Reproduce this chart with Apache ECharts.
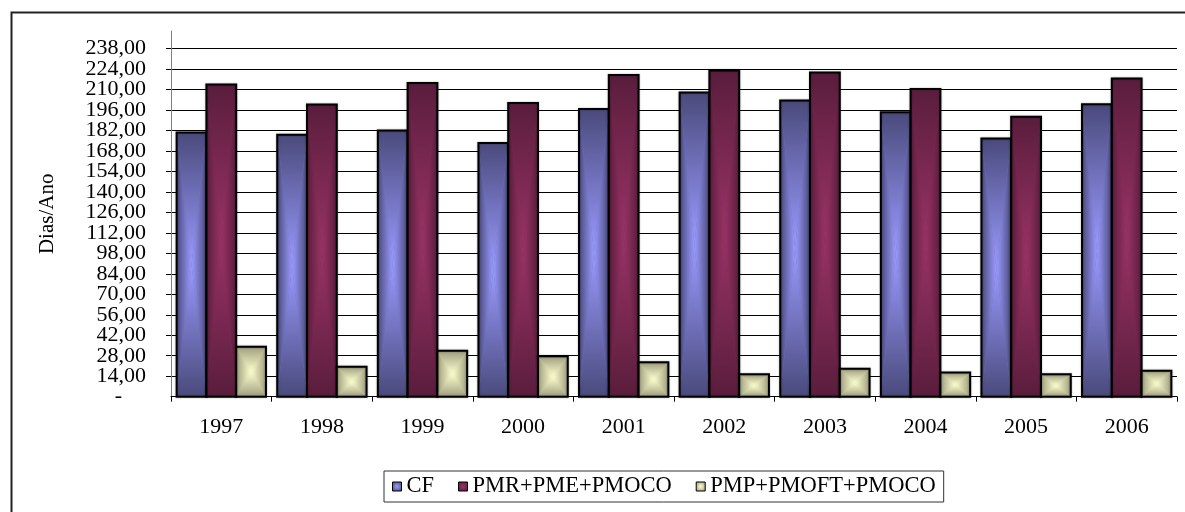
<!DOCTYPE html>
<html>
<head>
<meta charset="utf-8">
<script src="https://cdn.jsdelivr.net/npm/echarts@6/dist/echarts.min.js"></script>
<style>
  html, body { margin: 0; padding: 0; background: #fff; }
  #chart { width: 1185px; height: 512px; }
</style>
</head>
<body>
<div id="chart"></div>
<script>
// Days per year, 1997-2006
const years = ['1997', '1998', '1999', '2000', '2001', '2002', '2003', '2004', '2005', '2006'];
const cf = [180.6, 179.0, 182.0, 173.5, 196.7, 207.9, 202.5, 194.5, 176.5, 199.9];
const pmr = [213.4, 199.7, 214.5, 200.8, 220.0, 223.0, 221.6, 210.4, 191.3, 217.5];
const pmp = [34.2, 20.5, 31.4, 27.6, 23.5, 15.3, 19.1, 16.6, 15.3, 17.8];
const seriesNames = ['CF', 'PMR+PME+PMOCO', 'PMP+PMOFT+PMOCO'];
const yStep = 14;
const yMax = 250;
const zeroLabel = '-';

const FONT = '"Liberation Serif", "Times New Roman", serif';
const GROUP_FRAC = 0.888;
const GRID_LEFT = 171;
const LABEL_MARGIN = 25;

// centre / edge colours of the "from centre" fills
const palette = [
  { center: '#9a9aff', edge: '#4a4a7c', mid: '#6f6fbf' },
  { center: '#993366', edge: '#5a1d3c', mid: '#7a2850' },
  { center: '#ffffd0', edge: '#9e9e7e', mid: '#d0d0a8' }
];

function lin(x, y, x2, y2, c0, c1) {
  return { type: 'linear', x: x, y: y, x2: x2, y2: y2,
    colorStops: [{ offset: 0, color: c0 }, { offset: 1, color: c1 }] };
}

// Bar with a rectangular gradient: four triangles meeting at the bar centre
function barRenderer(k) {
  const c = palette[k];
  return function (params, api) {
    const idx = api.value(0);
    const val = api.value(1);
    const base = api.coord([idx, 0]);
    const top = api.coord([idx, val]);
    const band = api.size([1, 0])[0];
    const groupW = band * GROUP_FRAC;
    const barW = groupW / 3;
    const x0 = base[0] - groupW / 2 + k * barW;
    const x1 = x0 + barW;
    const y0 = top[1];
    const y1 = base[1];
    const cx = (x0 + x1) / 2;
    const cy = (y0 + y1) / 2;
    return {
      type: 'group',
      children: [
        { type: 'rect', shape: { x: x0, y: y0, width: barW, height: y1 - y0 },
          style: { fill: c.mid } },
        { type: 'polygon', shape: { points: [[x0, y0], [x1, y0], [cx, cy]] },
          style: { fill: lin(0, 0, 0, 1, c.edge, c.center) } },
        { type: 'polygon', shape: { points: [[x0, y1], [x1, y1], [cx, cy]] },
          style: { fill: lin(0, 0, 0, 1, c.center, c.edge) } },
        { type: 'polygon', shape: { points: [[x0, y0], [x0, y1], [cx, cy]] },
          style: { fill: lin(0, 0, 1, 0, c.edge, c.center) } },
        { type: 'polygon', shape: { points: [[x1, y0], [x1, y1], [cx, cy]] },
          style: { fill: lin(0, 0, 1, 0, c.center, c.edge) } },
        { type: 'rect', shape: { x: x0, y: y0, width: barW, height: y1 - y0 },
          style: { fill: 'none', stroke: '#000', lineWidth: 2,
            shadowBlur: 2, shadowColor: 'rgba(0,0,0,0.35)' } }
      ]
    };
  };
}

const seriesValues = [cf, pmr, pmp];

function iconStyle(k) {
  const c = palette[k];
  return {
    color: { type: 'radial', x: 0.5, y: 0.5, r: 0.6,
      colorStops: [{ offset: 0, color: c.center }, { offset: 1, color: c.edge }] },
    borderColor: '#000', borderWidth: 1
  };
}

const chart = echarts.init(document.getElementById('chart'), null, { renderer: 'canvas' });

chart.setOption({
  backgroundColor: '#fff',
  animation: false,
  graphic: [{
    id: 'frame',
    type: 'rect', left: 9, top: 10, z: -10,
    shape: { x: 0, y: 0, width: 1200, height: 600 },
    style: { fill: 'none', stroke: '#222', lineWidth: 2 }
  }],
  grid: { left: GRID_LEFT, right: 8, top: 31, bottom: 115.3, containLabel: false, outerBoundsMode: 'none' },
  legend: {
    left: 384, top: 471,
    padding: [4, 8],
    itemGap: 24,
    itemWidth: 9, itemHeight: 9,
    icon: 'rect',
    borderColor: '#333', borderWidth: 1,
    textStyle: { fontFamily: FONT, fontSize: 22.5, color: '#000' },
    data: seriesNames.map(function (n, k) { return { name: n, itemStyle: iconStyle(k) }; })
  },
  xAxis: {
    type: 'category',
    data: years,
    axisLine: { lineStyle: { color: '#000', width: 1 } },
    axisTick: { show: true, length: 5, lineStyle: { color: '#000' } },
    axisLabel: { fontFamily: FONT, fontSize: 22, color: '#000', margin: 20 },
    splitLine: { show: false }
  },
  yAxis: {
    type: 'value',
    min: 0, max: yMax, interval: yStep,
    name: 'Dias/Ano',
    nameLocation: 'middle',
    nameRotate: 90,
    nameGap: 113,
    nameTextStyle: { fontFamily: FONT, fontSize: 21, color: '#000' },
    axisLine: { show: true, lineStyle: { color: '#808080', width: 1 } },
    axisTick: { show: true, length: 5, lineStyle: { color: '#000' } },
    splitLine: { show: true, showMaxLine: false, lineStyle: { color: '#000', width: 1 } },
    axisLabel: {
      showMinLabel: false,
      showMaxLabel: false,
      hideOverlap: false,
      fontFamily: FONT, fontSize: 22, color: '#000', margin: LABEL_MARGIN,
      formatter: function (v) { return v.toFixed(2).replace('.', ','); }
    }
  },
  series: seriesValues.map(function (vals, k) {
    return {
      type: 'custom',
      name: seriesNames[k],
      renderItem: barRenderer(k),
      encode: { x: 0, y: 1 },
      itemStyle: { color: palette[k].mid },
      data: vals.map(function (v, i) { return [i, v]; })
    };
  })
});

// accounting-style dash for the zero tick, placed on the value axis scale
const zeroY = chart.convertToPixel({ yAxisIndex: 0 }, 0);
chart.setOption({
  graphic: [{
    id: 'zeroTick',
    type: 'text',
    x: GRID_LEFT - LABEL_MARGIN - 24,
    y: zeroY,
    style: { text: zeroLabel, font: '22px ' + FONT, fill: '#000', align: 'right', verticalAlign: 'middle' }
  }]
});
</script>
</body>
</html>
